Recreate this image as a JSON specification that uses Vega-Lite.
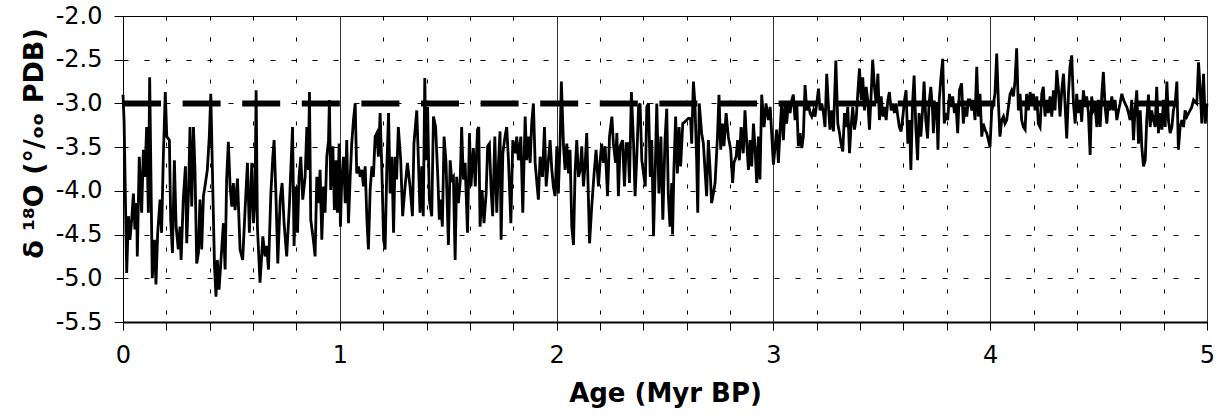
{
"$schema": "https://vega.github.io/schema/vega-lite/v6.json",
"width": 1084, "height": 306,
"autosize": "none",
"padding": {"left": 123, "top": 16, "right": 15, "bottom": 97},
"background": "white",
"config": {"view": {"stroke": "black", "strokeWidth": 1}},
"datasets": {
"ref": [{"start": 0, "end": 4.85, "level": -3}],
"series": [
{"age":0.000,"d18O":-2.90},{"age":0.005,"d18O":-3.20},{"age":0.017,"d18O":-4.94},{"age":0.025,"d18O":-4.29},{"age":0.032,"d18O":-4.56},{"age":0.040,"d18O":-4.33},{"age":0.048,"d18O":-4.03},{"age":0.055,"d18O":-4.44},{"age":0.063,"d18O":-4.14},{"age":0.066,"d18O":-4.75},{"age":0.075,"d18O":-3.61},{"age":0.086,"d18O":-4.25},{"age":0.094,"d18O":-3.53},{"age":0.101,"d18O":-3.84},{"age":0.109,"d18O":-3.27},{"age":0.117,"d18O":-4.25},{"age":0.123,"d18O":-2.70},{"age":0.135,"d18O":-5.00},{"age":0.145,"d18O":-4.56},{"age":0.152,"d18O":-5.07},{"age":0.160,"d18O":-4.48},{"age":0.171,"d18O":-4.10},{"age":0.178,"d18O":-4.48},{"age":0.186,"d18O":-3.61},{"age":0.195,"d18O":-2.87},{"age":0.202,"d18O":-3.38},{"age":0.214,"d18O":-3.42},{"age":0.220,"d18O":-4.33},{"age":0.228,"d18O":-4.71},{"age":0.237,"d18O":-3.65},{"age":0.245,"d18O":-4.41},{"age":0.255,"d18O":-4.67},{"age":0.263,"d18O":-4.41},{"age":0.268,"d18O":-4.79},{"age":0.278,"d18O":-4.10},{"age":0.288,"d18O":-3.72},{"age":0.294,"d18O":-4.60},{"age":0.303,"d18O":-3.95},{"age":0.309,"d18O":-3.27},{"age":0.317,"d18O":-4.18},{"age":0.325,"d18O":-3.27},{"age":0.332,"d18O":-3.76},{"age":0.340,"d18O":-4.83},{"age":0.348,"d18O":-4.71},{"age":0.355,"d18O":-4.10},{"age":0.363,"d18O":-4.67},{"age":0.371,"d18O":-4.06},{"age":0.378,"d18O":-3.95},{"age":0.389,"d18O":-3.76},{"age":0.398,"d18O":-3.38},{"age":0.405,"d18O":-2.89},{"age":0.414,"d18O":-3.95},{"age":0.422,"d18O":-4.86},{"age":0.429,"d18O":-5.21},{"age":0.435,"d18O":-4.79},{"age":0.443,"d18O":-5.13},{"age":0.452,"d18O":-4.79},{"age":0.463,"d18O":-4.37},{"age":0.471,"d18O":-4.90},{"age":0.478,"d18O":-3.87},{"age":0.486,"d18O":-3.44},{"age":0.494,"d18O":-3.95},{"age":0.502,"d18O":-4.18},{"age":0.509,"d18O":-3.91},{"age":0.517,"d18O":-4.22},{"age":0.528,"d18O":-3.86},{"age":0.540,"d18O":-4.67},{"age":0.552,"d18O":-4.79},{"age":0.563,"d18O":-4.22},{"age":0.574,"d18O":-3.68},{"age":0.583,"d18O":-4.48},{"age":0.594,"d18O":-3.68},{"age":0.602,"d18O":-4.37},{"age":0.609,"d18O":-4.10},{"age":0.614,"d18O":-2.85},{"age":0.620,"d18O":-4.41},{"age":0.632,"d18O":-5.05},{"age":0.645,"d18O":-4.52},{"age":0.655,"d18O":-4.75},{"age":0.663,"d18O":-4.63},{"age":0.671,"d18O":-4.90},{"age":0.682,"d18O":-4.03},{"age":0.691,"d18O":-3.61},{"age":0.697,"d18O":-3.42},{"age":0.706,"d18O":-4.10},{"age":0.714,"d18O":-4.83},{"age":0.725,"d18O":-4.10},{"age":0.734,"d18O":-3.91},{"age":0.743,"d18O":-4.37},{"age":0.755,"d18O":-4.75},{"age":0.768,"d18O":-4.14},{"age":0.774,"d18O":-3.76},{"age":0.782,"d18O":-3.27},{"age":0.789,"d18O":-4.63},{"age":0.798,"d18O":-3.95},{"age":0.805,"d18O":-4.48},{"age":0.812,"d18O":-3.84},{"age":0.820,"d18O":-3.61},{"age":0.829,"d18O":-4.10},{"age":0.840,"d18O":-3.84},{"age":0.848,"d18O":-3.27},{"age":0.855,"d18O":-3.76},{"age":0.860,"d18O":-2.87},{"age":0.866,"d18O":-4.33},{"age":0.878,"d18O":-4.56},{"age":0.886,"d18O":-4.75},{"age":0.894,"d18O":-3.84},{"age":0.902,"d18O":-4.14},{"age":0.909,"d18O":-3.76},{"age":0.917,"d18O":-4.56},{"age":0.925,"d18O":-3.95},{"age":0.932,"d18O":-4.25},{"age":0.940,"d18O":-3.61},{"age":0.948,"d18O":-3.42},{"age":0.952,"d18O":-2.96},{"age":0.958,"d18O":-3.99},{"age":0.968,"d18O":-3.49},{"age":0.975,"d18O":-4.22},{"age":0.983,"d18O":-3.65},{"age":0.989,"d18O":-4.25},{"age":0.997,"d18O":-3.46},
{"age":1.003,"d18O":-4.41},{"age":1.009,"d18O":-3.87},{"age":1.017,"d18O":-3.61},{"age":1.025,"d18O":-4.14},{"age":1.032,"d18O":-3.42},{"age":1.040,"d18O":-4.37},{"age":1.048,"d18O":-3.84},{"age":1.055,"d18O":-3.46},{"age":1.063,"d18O":-3.19},{"age":1.071,"d18O":-3.00},{"age":1.078,"d18O":-3.80},{"age":1.086,"d18O":-3.72},{"age":1.094,"d18O":-3.84},{"age":1.102,"d18O":-3.76},{"age":1.109,"d18O":-3.95},{"age":1.117,"d18O":-3.72},{"age":1.125,"d18O":-4.33},{"age":1.132,"d18O":-4.67},{"age":1.140,"d18O":-3.99},{"age":1.148,"d18O":-3.72},{"age":1.155,"d18O":-3.84},{"age":1.163,"d18O":-3.38},{"age":1.171,"d18O":-3.34},{"age":1.178,"d18O":-3.61},{"age":1.186,"d18O":-3.11},{"age":1.194,"d18O":-3.76},{"age":1.202,"d18O":-4.56},{"age":1.209,"d18O":-4.67},{"age":1.217,"d18O":-3.72},{"age":1.225,"d18O":-3.11},{"age":1.232,"d18O":-4.03},{"age":1.240,"d18O":-3.61},{"age":1.248,"d18O":-4.48},{"age":1.255,"d18O":-3.61},
{"age":1.262,"d18O":-3.87},{"age":1.270,"d18O":-3.27},{"age":1.281,"d18O":-3.65},{"age":1.290,"d18O":-4.29},{"age":1.301,"d18O":-3.95},{"age":1.312,"d18O":-3.68},{"age":1.324,"d18O":-3.95},{"age":1.335,"d18O":-4.29},{"age":1.342,"d18O":-3.46},{"age":1.355,"d18O":-3.08},{"age":1.362,"d18O":-3.61},{"age":1.370,"d18O":-4.25},{"age":1.378,"d18O":-3.72},{"age":1.385,"d18O":-4.29},{"age":1.392,"d18O":-2.71},{"age":1.398,"d18O":-3.65},{"age":1.405,"d18O":-3.04},{"age":1.413,"d18O":-4.10},{"age":1.424,"d18O":-4.29},{"age":1.432,"d18O":-3.15},{"age":1.442,"d18O":-3.27},{"age":1.452,"d18O":-3.84},{"age":1.459,"d18O":-4.33},{"age":1.465,"d18O":-4.10},{"age":1.473,"d18O":-4.41},{"age":1.481,"d18O":-3.38},{"age":1.490,"d18O":-3.68},{"age":1.501,"d18O":-4.62},{"age":1.509,"d18O":-3.65},{"age":1.516,"d18O":-3.87},{"age":1.524,"d18O":-3.84},{"age":1.532,"d18O":-4.79},{"age":1.539,"d18O":-3.84},{"age":1.547,"d18O":-4.14},{"age":1.555,"d18O":-3.91},{"age":1.562,"d18O":-3.27},{"age":1.570,"d18O":-3.87},{"age":1.578,"d18O":-3.68},{"age":1.589,"d18O":-4.48},{"age":1.598,"d18O":-3.34},{"age":1.605,"d18O":-3.95},{"age":1.616,"d18O":-3.51},{"age":1.625,"d18O":-3.95},{"age":1.635,"d18O":-3.30},{"age":1.641,"d18O":-3.27},{"age":1.647,"d18O":-4.41},{"age":1.656,"d18O":-3.99},{"age":1.665,"d18O":-4.37},{"age":1.675,"d18O":-4.03},{"age":1.682,"d18O":-3.49},{"age":1.690,"d18O":-3.46},{"age":1.698,"d18O":-3.99},{"age":1.705,"d18O":-4.29},{"age":1.715,"d18O":-3.38},{"age":1.724,"d18O":-4.25},{"age":1.732,"d18O":-3.68},{"age":1.739,"d18O":-3.32},{"age":1.744,"d18O":-4.56},{"age":1.752,"d18O":-3.57},{"age":1.762,"d18O":-3.38},{"age":1.770,"d18O":-3.27},{"age":1.778,"d18O":-3.65},{"age":1.789,"d18O":-4.37},{"age":1.798,"d18O":-3.42},{"age":1.809,"d18O":-3.57},{"age":1.816,"d18O":-3.38},{"age":1.824,"d18O":-3.65},{"age":1.835,"d18O":-3.38},{"age":1.844,"d18O":-4.25},{"age":1.855,"d18O":-3.15},{"age":1.862,"d18O":-3.65},{"age":1.870,"d18O":-3.38},{"age":1.878,"d18O":-3.68},{"age":1.885,"d18O":-3.23},{"age":1.893,"d18O":-3.00},{"age":1.901,"d18O":-3.68},{"age":1.909,"d18O":-3.91},{"age":1.916,"d18O":-4.10},{"age":1.924,"d18O":-3.61},{"age":1.935,"d18O":-3.84},{"age":1.944,"d18O":-3.27},{"age":1.952,"d18O":-3.95},{"age":1.962,"d18O":-3.65},{"age":1.970,"d18O":-3.42},{"age":1.978,"d18O":-3.76},{"age":1.985,"d18O":-3.95},{"age":1.993,"d18O":-4.06},
{"age":2.001,"d18O":-3.49},{"age":2.008,"d18O":-4.03},{"age":2.016,"d18O":-3.46},{"age":2.022,"d18O":-2.75},{"age":2.032,"d18O":-3.49},{"age":2.039,"d18O":-3.76},{"age":2.047,"d18O":-3.46},{"age":2.055,"d18O":-3.80},{"age":2.062,"d18O":-3.53},{"age":2.070,"d18O":-4.41},{"age":2.078,"d18O":-4.62},{"age":2.085,"d18O":-3.80},{"age":2.093,"d18O":-3.42},{"age":2.101,"d18O":-3.84},{"age":2.109,"d18O":-3.76},{"age":2.116,"d18O":-3.49},{"age":2.124,"d18O":-3.95},{"age":2.132,"d18O":-3.68},{"age":2.139,"d18O":-3.34},{"age":2.152,"d18O":-4.60},{"age":2.162,"d18O":-4.18},{"age":2.173,"d18O":-3.80},{"age":2.182,"d18O":-3.53},{"age":2.193,"d18O":-3.95},{"age":2.201,"d18O":-3.65},{"age":2.208,"d18O":-3.46},{"age":2.216,"d18O":-3.68},{"age":2.224,"d18O":-3.49},{"age":2.235,"d18O":-4.06},{"age":2.244,"d18O":-3.38},{"age":2.255,"d18O":-3.15},{"age":2.262,"d18O":-3.46},{"age":2.272,"d18O":-3.68},{"age":2.278,"d18O":-3.34},{"age":2.285,"d18O":-4.06},{"age":2.293,"d18O":-3.49},{"age":2.304,"d18O":-3.42},{"age":2.313,"d18O":-3.95},{"age":2.321,"d18O":-3.46},{"age":2.329,"d18O":-3.46},{"age":2.336,"d18O":-3.91},{"age":2.345,"d18O":-2.87},{"age":2.355,"d18O":-3.46},{"age":2.362,"d18O":-4.06},{"age":2.370,"d18O":-3.61},{"age":2.378,"d18O":-3.04},{"age":2.385,"d18O":-3.00},{"age":2.393,"d18O":-3.65},{"age":2.401,"d18O":-3.80},{"age":2.409,"d18O":-3.95},{"age":2.416,"d18O":-3.04},{"age":2.424,"d18O":-3.00},{"age":2.432,"d18O":-3.84},{"age":2.439,"d18O":-3.42},{"age":2.447,"d18O":-4.52},{"age":2.455,"d18O":-3.76},{"age":2.462,"d18O":-3.00},{"age":2.472,"d18O":-4.03},{"age":2.481,"d18O":-3.38},{"age":2.490,"d18O":-4.33},
{"age":2.500,"d18O":-3.42},{"age":2.508,"d18O":-3.06},{"age":2.515,"d18O":-4.03},{"age":2.523,"d18O":-4.41},{"age":2.531,"d18O":-3.91},{"age":2.535,"d18O":-4.50},{"age":2.541,"d18O":-3.76},{"age":2.549,"d18O":-3.15},{"age":2.557,"d18O":-3.80},{"age":2.565,"d18O":-3.27},{"age":2.572,"d18O":-3.72},{"age":2.582,"d18O":-3.23},{"age":2.592,"d18O":-3.21},{"age":2.608,"d18O":-3.17},{"age":2.618,"d18O":-3.17},{"age":2.623,"d18O":-3.46},{"age":2.631,"d18O":-2.75},{"age":2.638,"d18O":-3.00},{"age":2.646,"d18O":-3.65},{"age":2.651,"d18O":-4.25},{"age":2.658,"d18O":-3.00},{"age":2.669,"d18O":-3.34},{"age":2.677,"d18O":-3.46},{"age":2.692,"d18O":-4.06},{"age":2.700,"d18O":-3.42},{"age":2.708,"d18O":-3.76},{"age":2.715,"d18O":-4.14},{"age":2.723,"d18O":-4.03},{"age":2.731,"d18O":-3.91},{"age":2.742,"d18O":-3.38},{"age":2.749,"d18O":-2.90},{"age":2.757,"d18O":-3.53},{"age":2.765,"d18O":-3.23},{"age":2.772,"d18O":-3.49},{"age":2.782,"d18O":-3.11},{"age":2.792,"d18O":-3.38},{"age":2.803,"d18O":-3.53},{"age":2.812,"d18O":-3.91},{"age":2.818,"d18O":-3.68},{"age":2.828,"d18O":-3.61},{"age":2.835,"d18O":-3.42},{"age":2.843,"d18O":-3.65},{"age":2.851,"d18O":-3.27},{"age":2.861,"d18O":-3.57},{"age":2.869,"d18O":-3.08},{"age":2.877,"d18O":-3.46},{"age":2.885,"d18O":-3.76},{"age":2.892,"d18O":-3.42},{"age":2.900,"d18O":-3.72},{"age":2.908,"d18O":-3.23},{"age":2.915,"d18O":-3.49},{"age":2.923,"d18O":-3.91},{"age":2.931,"d18O":-3.38},{"age":2.938,"d18O":-3.87},{"age":2.946,"d18O":-2.90},{"age":2.957,"d18O":-3.27},{"age":2.966,"d18O":-3.00},{"age":2.977,"d18O":-3.19},{"age":2.985,"d18O":-3.04},{"age":2.992,"d18O":-3.34},
{"age":3.000,"d18O":-3.70},{"age":3.008,"d18O":-3.49},{"age":3.015,"d18O":-3.30},{"age":3.023,"d18O":-3.68},{"age":3.031,"d18O":-3.30},{"age":3.038,"d18O":-3.00},{"age":3.046,"d18O":-3.42},{"age":3.054,"d18O":-3.00},{"age":3.061,"d18O":-3.23},{"age":3.069,"d18O":-3.00},{"age":3.077,"d18O":-3.11},{"age":3.085,"d18O":-2.96},{"age":3.092,"d18O":-2.90},{"age":3.100,"d18O":-3.19},{"age":3.108,"d18O":-3.00},{"age":3.115,"d18O":-3.49},{"age":3.123,"d18O":-3.34},{"age":3.131,"d18O":-3.51},{"age":3.138,"d18O":-3.38},{"age":3.146,"d18O":-2.79},{"age":3.154,"d18O":-3.08},{"age":3.161,"d18O":-3.00},{"age":3.169,"d18O":-3.11},{"age":3.177,"d18O":-3.15},{"age":3.185,"d18O":-3.08},{"age":3.192,"d18O":-3.15},{"age":3.200,"d18O":-3.00},{"age":3.208,"d18O":-2.83},{"age":3.215,"d18O":-3.08},{"age":3.223,"d18O":-3.00},{"age":3.231,"d18O":-3.11},{"age":3.238,"d18O":-3.27},{"age":3.246,"d18O":-2.66},{"age":3.254,"d18O":-3.04},{"age":3.261,"d18O":-3.30},{"age":3.269,"d18O":-3.08},{"age":3.277,"d18O":-3.32},{"age":3.288,"d18O":-2.51},{"age":3.297,"d18O":-3.23},{"age":3.305,"d18O":-3.34},{"age":3.312,"d18O":-3.46},{"age":3.320,"d18O":-3.55},{"age":3.328,"d18O":-3.11},{"age":3.335,"d18O":-3.27},{"age":3.343,"d18O":-3.04},{"age":3.351,"d18O":-3.57},{"age":3.358,"d18O":-3.27},{"age":3.366,"d18O":-3.04},{"age":3.374,"d18O":-3.30},{"age":3.382,"d18O":-3.17},{"age":3.389,"d18O":-2.89},{"age":3.397,"d18O":-2.60},{"age":3.405,"d18O":-2.96},{"age":3.412,"d18O":-2.70},{"age":3.420,"d18O":-3.08},{"age":3.428,"d18O":-2.81},{"age":3.435,"d18O":-2.96},{"age":3.443,"d18O":-3.30},{"age":3.451,"d18O":-2.89},{"age":3.458,"d18O":-2.50},{"age":3.466,"d18O":-2.81},{"age":3.474,"d18O":-3.00},{"age":3.482,"d18O":-2.66},{"age":3.489,"d18O":-3.19},{"age":3.497,"d18O":-2.92},{"age":3.505,"d18O":-3.15},{"age":3.512,"d18O":-3.04},{"age":3.520,"d18O":-3.19},{"age":3.528,"d18O":-2.96},{"age":3.535,"d18O":-2.87},{"age":3.543,"d18O":-3.08},{"age":3.551,"d18O":-3.00},{"age":3.558,"d18O":-3.11},{"age":3.566,"d18O":-3.00},{"age":3.574,"d18O":-3.15},{"age":3.581,"d18O":-3.27},{"age":3.589,"d18O":-3.32},{"age":3.597,"d18O":-3.15},{"age":3.605,"d18O":-2.96},{"age":3.612,"d18O":-2.85},{"age":3.620,"d18O":-3.46},{"age":3.628,"d18O":-3.19},{"age":3.634,"d18O":-3.76},{"age":3.642,"d18O":-3.00},{"age":3.649,"d18O":-2.68},{"age":3.657,"d18O":-3.27},{"age":3.665,"d18O":-3.65},{"age":3.672,"d18O":-3.11},{"age":3.680,"d18O":-3.38},{"age":3.688,"d18O":-3.08},{"age":3.695,"d18O":-2.75},{"age":3.703,"d18O":-3.19},{"age":3.711,"d18O":-3.40},{"age":3.718,"d18O":-3.00},{"age":3.726,"d18O":-2.81},{"age":3.734,"d18O":-3.08},{"age":3.738,"d18O":-3.34},{"age":3.746,"d18O":-3.00},
{"age":3.753,"d18O":-3.00},{"age":3.759,"d18O":-3.53},{"age":3.765,"d18O":-2.96},{"age":3.773,"d18O":-2.70},{"age":3.781,"d18O":-2.49},{"age":3.788,"d18O":-3.23},{"age":3.796,"d18O":-3.11},{"age":3.804,"d18O":-3.19},{"age":3.812,"d18O":-2.89},{"age":3.819,"d18O":-3.04},{"age":3.827,"d18O":-2.92},{"age":3.835,"d18O":-3.11},{"age":3.842,"d18O":-3.00},{"age":3.850,"d18O":-3.34},{"age":3.858,"d18O":-2.85},{"age":3.868,"d18O":-2.77},{"age":3.876,"d18O":-3.23},{"age":3.884,"d18O":-3.04},{"age":3.892,"d18O":-3.15},{"age":3.899,"d18O":-2.96},{"age":3.907,"d18O":-2.96},{"age":3.915,"d18O":-3.08},{"age":3.922,"d18O":-2.96},{"age":3.930,"d18O":-3.19},{"age":3.938,"d18O":-2.58},{"age":3.945,"d18O":-3.15},{"age":3.953,"d18O":-2.89},{"age":3.961,"d18O":-3.38},{"age":3.968,"d18O":-3.23},{"age":3.976,"d18O":-3.30},{"age":3.984,"d18O":-3.34},{"age":3.992,"d18O":-3.42},{"age":3.999,"d18O":-3.50},
{"age":4.007,"d18O":-3.08},{"age":4.015,"d18O":-3.00},{"age":4.022,"d18O":-2.89},{"age":4.030,"d18O":-2.43},{"age":4.038,"d18O":-3.00},{"age":4.045,"d18O":-3.38},{"age":4.053,"d18O":-3.19},{"age":4.061,"d18O":-3.15},{"age":4.068,"d18O":-3.23},{"age":4.076,"d18O":-3.19},{"age":4.084,"d18O":-3.04},{"age":4.092,"d18O":-2.89},{"age":4.099,"d18O":-2.85},{"age":4.107,"d18O":-2.92},{"age":4.115,"d18O":-2.73},{"age":4.122,"d18O":-2.37},{"age":4.130,"d18O":-3.08},{"age":4.138,"d18O":-2.89},{"age":4.145,"d18O":-3.19},{"age":4.153,"d18O":-3.27},{"age":4.161,"d18O":-3.30},{"age":4.168,"d18O":-2.89},{"age":4.176,"d18O":-3.08},{"age":4.184,"d18O":-2.87},{"age":4.192,"d18O":-3.00},{"age":4.199,"d18O":-2.89},{"age":4.207,"d18O":-3.08},{"age":4.215,"d18O":-2.92},{"age":4.222,"d18O":-3.23},{"age":4.230,"d18O":-3.27},{"age":4.238,"d18O":-2.89},{"age":4.245,"d18O":-2.81},{"age":4.253,"d18O":-3.15},{"age":4.261,"d18O":-2.96},{"age":4.268,"d18O":-3.11},{"age":4.276,"d18O":-2.92},{"age":4.284,"d18O":-3.15},{"age":4.292,"d18O":-2.85},{"age":4.299,"d18O":-3.08},{"age":4.307,"d18O":-2.62},{"age":4.315,"d18O":-2.85},{"age":4.322,"d18O":-3.15},{"age":4.330,"d18O":-2.85},{"age":4.338,"d18O":-2.66},{"age":4.345,"d18O":-3.00},{"age":4.353,"d18O":-3.40},{"age":4.361,"d18O":-2.89},{"age":4.368,"d18O":-2.58},{"age":4.376,"d18O":-2.45},{"age":4.384,"d18O":-3.00},{"age":4.392,"d18O":-3.23},{"age":4.399,"d18O":-2.89},{"age":4.407,"d18O":-3.11},{"age":4.415,"d18O":-2.96},{"age":4.422,"d18O":-3.21},{"age":4.430,"d18O":-2.85},{"age":4.438,"d18O":-3.04},{"age":4.445,"d18O":-2.92},{"age":4.453,"d18O":-3.11},{"age":4.461,"d18O":-3.59},{"age":4.468,"d18O":-2.92},{"age":4.476,"d18O":-3.08},{"age":4.484,"d18O":-3.04},{"age":4.492,"d18O":-3.27},{"age":4.499,"d18O":-2.96},{"age":4.507,"d18O":-3.27},{"age":4.515,"d18O":-2.89},{"age":4.522,"d18O":-2.64},{"age":4.530,"d18O":-3.04},{"age":4.538,"d18O":-3.23},{"age":4.545,"d18O":-3.00},{"age":4.553,"d18O":-3.08},{"age":4.561,"d18O":-2.92},{"age":4.568,"d18O":-3.08},{"age":4.576,"d18O":-2.96},{"age":4.584,"d18O":-3.19},{"age":4.592,"d18O":-3.08},{"age":4.599,"d18O":-3.00},{"age":4.607,"d18O":-2.89},{"age":4.615,"d18O":-2.96},{"age":4.622,"d18O":-3.00},{"age":4.630,"d18O":-3.04},{"age":4.638,"d18O":-3.11},{"age":4.645,"d18O":-3.19},{"age":4.653,"d18O":-2.96},{"age":4.661,"d18O":-3.42},{"age":4.668,"d18O":-3.08},{"age":4.676,"d18O":-2.85},{"age":4.684,"d18O":-3.46},{"age":4.692,"d18O":-3.08},{"age":4.699,"d18O":-3.49},{"age":4.707,"d18O":-3.72},{"age":4.715,"d18O":-3.65},{"age":4.722,"d18O":-3.19},{"age":4.730,"d18O":-2.90},{"age":4.738,"d18O":-3.27},{"age":4.745,"d18O":-3.08},{"age":4.753,"d18O":-3.19},{"age":4.761,"d18O":-3.27},{"age":4.768,"d18O":-2.81},{"age":4.776,"d18O":-3.34},{"age":4.784,"d18O":-3.11},{"age":4.792,"d18O":-3.30},{"age":4.799,"d18O":-2.96},{"age":4.807,"d18O":-3.27},{"age":4.815,"d18O":-2.75},{"age":4.822,"d18O":-3.19},{"age":4.830,"d18O":-3.34},{"age":4.838,"d18O":-3.27},{"age":4.845,"d18O":-3.08},{"age":4.853,"d18O":-3.00},{"age":4.861,"d18O":-2.75},{"age":4.868,"d18O":-3.53},{"age":4.876,"d18O":-3.27},{"age":4.884,"d18O":-3.19},{"age":4.892,"d18O":-3.27},{"age":4.899,"d18O":-3.08},{"age":4.907,"d18O":-3.15},{"age":4.915,"d18O":-3.11},{"age":4.922,"d18O":-3.08},{"age":4.930,"d18O":-3.04},{"age":4.938,"d18O":-2.96},{"age":4.945,"d18O":-2.98},{"age":4.953,"d18O":-3.00},{"age":4.961,"d18O":-2.53},{"age":4.968,"d18O":-2.81},{"age":4.976,"d18O":-3.23},{"age":4.984,"d18O":-2.66},{"age":4.992,"d18O":-3.23},{"age":5.000,"d18O":-3.00}
]
},
"layer": [
{
"data": {"name": "series"},
"mark": {"type": "line", "color": "black", "strokeWidth": 2.8},
"encoding": {
"x": {"field": "age", "type": "quantitative",
 "scale": {"domain": [0, 5], "nice": false, "zero": false},
 "axis": {
  "title": "Age (Myr BP)",
  "values": [0,0.2,0.4,0.6,0.8,1,1.2,1.4,1.6,1.8,2,2.2,2.4,2.6,2.8,3,3.2,3.4,3.6,3.8,4,4.2,4.4,4.6,4.8,5],
  "labelExpr": "abs(datum.value - round(datum.value)) < 0.001 ? format(datum.value, 'd') : ''",
  "grid": true,
  "gridColor": {"condition": {"test": "abs(datum.value - round(datum.value)) < 0.001", "value": "#333333"}, "value": "black"},
  "gridDash": {"condition": {"test": "abs(datum.value - round(datum.value)) < 0.001", "value": []}, "value": [4, 17]},
  "gridWidth": 1,
  "domainColor": "black", "domainWidth": 2,
  "tickColor": "black", "tickSize": 8, "tickWidth": 1,
  "labelFont": "DejaVu Sans", "labelFontSize": 24, "labelColor": "black", "labelPadding": 13,
  "labelFlush": false, "labelOverlap": false, "labelBound": false,
  "titleFont": "DejaVu Sans", "titleFontSize": 26, "titleFontWeight": "bold", "titleColor": "black",
  "titleBaseline": "alphabetic", "titleY": 79
 }
},
"y": {"field": "d18O", "type": "quantitative",
 "scale": {"domain": [-5.5, -2], "nice": false, "zero": false},
 "axis": {
  "title": "δ ¹⁸O (°/ₒₒ PDB)",
  "values": [-5.5,-5,-4.5,-4,-3.5,-3,-2.5,-2],
  "labelExpr": "replace(format(datum.value, '.1f'), '\u2212', '-')",
  "grid": true, "gridColor": "black", "gridDash": [5, 16], "gridWidth": 1,
  "domainColor": "black", "domainWidth": 1,
  "tickColor": "black", "tickSize": 9, "tickWidth": 1,
  "labelFont": "DejaVu Sans", "labelFontSize": 24, "labelColor": "black", "labelPadding": 12,
  "labelOverlap": false, "labelBound": false,
  "titleFont": "DejaVu Sans", "titleFontSize": 27, "titleFontWeight": "bold", "titleColor": "black",
  "titleAngle": 270, "titleAlign": "center", "titleBaseline": "alphabetic",
  "titleX": -81, "titleY": 127
 }
}
}
},
{
"data": {"name": "ref"},
"mark": {"type": "rule", "color": "black", "strokeWidth": 6, "strokeDash": [38, 21.6]},
"encoding": {
"x": {"field": "start", "type": "quantitative"},
"x2": {"field": "end"},
"y": {"field": "level", "type": "quantitative"}
}
}
]
}
